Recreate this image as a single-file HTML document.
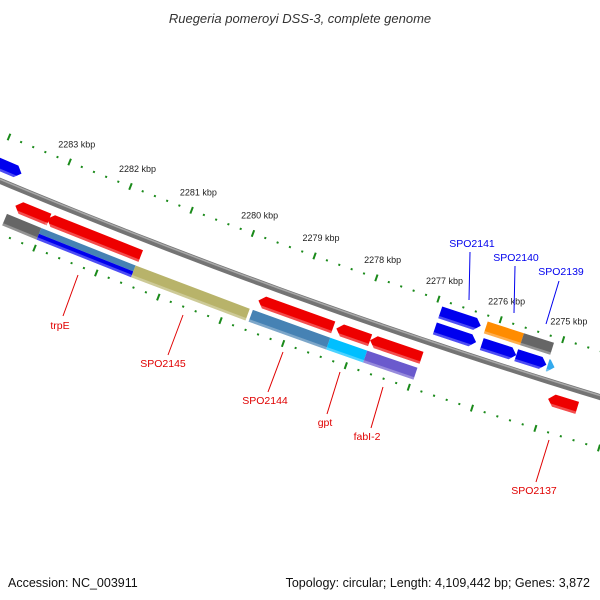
<!DOCTYPE html>
<html><head><meta charset="utf-8"><style>
html,body{margin:0;padding:0;background:#fff;}
svg{display:block;font-family:"Liberation Sans",sans-serif;}
</style></head><body>
<svg id="map" width="600" height="600" viewBox="0 0 600 600" xmlns="http://www.w3.org/2000/svg">
<rect width="600" height="600" fill="#fff"/>
<text x="300" y="23" text-anchor="middle" font-size="13" font-style="italic" fill="#333">Ruegeria pomeroyi DSS-3, complete genome</text>
<g id="ticks"></g>
<g id="backbone"></g>
<g id="features"></g>
<g id="labels"></g>
<text x="8" y="587" font-size="12.5" fill="#111">Accession: NC_003911</text>
<text x="590" y="587" text-anchor="end" font-size="12.5" fill="#111">Topology: circular; Length: 4,109,442 bp; Genes: 3,872</text>
</svg>
<script>
// data (kbp)
const featStart = [2284.6,2276.91,2276.16,2275.61,2275.11, 2276.91,2276.18,2275.60, 2283.51,2282.99,2279.57,2278.32,2277.78,2274.95, 2283.58,2283.02,2281.49,2279.60,2278.36,2277.77];
const featEnd   = [2283.61,2276.25,2275.61,2275.13,2275.00, 2276.26,2275.60,2275.12, 2282.96,2281.47,2278.37,2277.78,2276.96,2274.49, 2283.02,2281.49,2279.65,2278.36,2277.77,2276.97];
const featRing  = [-1,-1,-1,-1,-1, -2,-2,-2, 1,1,1,1,1,1, 2,2,2,2,2,2];
const featDir   = [1,1,1,1,1, 1,0,0, -1,-1,-1,-1,-1,-1, 0,0,0,0,0,0];
const featColor = ["#0000ee","#0000ee","#0000ee","#0000ee","#33aaee","#0000ee","#ff8c00","#666666","#ee0000","#ee0000","#ee0000","#ee0000","#ee0000","#ee0000","#666666","#4682b4","#b8b36a","#4682b4","#00bfff","#6a5acd"];
const tickLabels = [2283,2282,2281,2280,2279,2278,2277,2276,2275];
const tickMin = 2273.8, tickMax = 2285.0, tickStep = 0.2;

const NS="http://www.w3.org/2000/svg";
const CX=2453, CY=-5687, R=6360;
function phi(k){return (112.17+(k-2283)*0.595)*Math.PI/180;}
function pos(k,r){const a=phi(k);return [CX+r*Math.cos(a), CY+r*Math.sin(a)];}
function mk(tag,attrs,parent){const e=document.createElementNS(NS,tag);for(const a in attrs)e.setAttribute(a,attrs[a]);parent.appendChild(e);return e;}
function pts(list){return list.map(p=>p[0].toFixed(2)+","+p[1].toFixed(2)).join(" ");}
const ringOff={"-2":-32,"-1":-15,"1":17,"2":34};

// ticks
const tg=document.getElementById('ticks');
[R-44,R+49].forEach((rr,ri)=>{
  const n=Math.round((tickMax-tickMin)/tickStep);
  for(let i=0;i<=n;i++){
    const k=tickMin+i*tickStep;
    const major=Math.abs(k-Math.round(k))<0.01;
    const h=major?3.5:1;
    const a=pos(k,rr-h),b=pos(k,rr+h);
    const l=mk('line',{x1:a[0],y1:a[1],x2:b[0],y2:b[1],stroke:"#1a8a1a","stroke-width":2},tg);
    
    
  }
});
tickLabels.forEach(k=>{
  const p=pos(k,R-63);
  const t=mk('text',{x:p[0],y:p[1]+3,"text-anchor":"middle","font-size":"9",fill:"#222"},tg);
  t.textContent=k+" kbp";
  
  
});

// backbone
const bg=document.getElementById('backbone');
function arcPath(r,k0,k1){let d="";for(let i=0;i<=40;i++){const k=k0+(k1-k0)*i/40;const p=pos(k,r);d+=(i?"L":"M")+p[0].toFixed(2)+","+p[1].toFixed(2);}return d;}
const bb=mk('path',{d:arcPath(R,2284.2,2274.0),stroke:"#747474","stroke-width":6,fill:"none"},bg);


const bb2=mk('path',{d:arcPath(R-1.5,2284.2,2274.0),stroke:"#a8a8a8","stroke-width":1.5,fill:"none"},bg);



// features
const fg=document.getElementById('features');
function shape(kA,kB,r1,r2,dir){
  const h=0.09, rm=(r1+r2)/2;
  if(dir===1) return [pos(kA,r1),pos(kB+h,r1),pos(kB,rm),pos(kB+h,r2),pos(kA,r2)];
  if(dir===-1) return [pos(kA-h,r1),pos(kB,r1),pos(kB,r2),pos(kA-h,r2),pos(kA,rm)];
  return [pos(kA,r1),pos(kB,r1),pos(kB,r2),pos(kA,r2)];
}
featStart.forEach((kA,i)=>{
  const kB=featEnd[i];
  const c=R+ringOff[featRing[i]];
  const r1=c-6.25,r2=c+6.25;
  const g=mk('g',{},fg);
  
  
  if(i===15){
    mk('polygon',{points:pts(shape(kA,kB,r1,c,0)),fill:"#4682b4"},g);
    mk('polygon',{points:pts(shape(kA,kB,c,r2,0)),fill:"#0000ee"},g);
  } else {
    mk('polygon',{points:pts(shape(kA,kB,r1,r2,featDir[i])),fill:featColor[i]},g);
  }
  mk('polygon',{points:pts(shape(kA,kB,r2-2.5,r2,0)),fill:"#fff","fill-opacity":0.3},g);
});

// gene labels (pixel placement)
const lg=document.getElementById('labels');
const labs=[
 ["trpE",60,329,78,275,63,316,"#e00000"],
 ["SPO2145",163,367,183,315,168,355,"#e00000"],
 ["SPO2144",265,404,283,352,268,392,"#e00000"],
 ["gpt",325,426,340,372,327,414,"#e00000"],
 ["fabI-2",367,440,383,387,371,428,"#e00000"],
 ["SPO2137",534,494,549,440,536,482,"#e00000"],
 ["SPO2141",472,247,470,252,469,300,"#0000ee"],
 ["SPO2140",516,261,515,266,514,313,"#0000ee"],
 ["SPO2139",561,275,559,281,546,324,"#0000ee"]
];
labs.forEach(L=>{
  const ln=mk('line',{x1:L[3],y1:L[4],x2:L[5],y2:L[6],stroke:L[7],"stroke-width":1},lg);
  
  
  const t=mk('text',{x:L[1],y:L[2],"text-anchor":"middle","font-size":"10.5",fill:L[7]},lg);
  t.textContent=L[0];
  
  
});
</script>
</body></html>
